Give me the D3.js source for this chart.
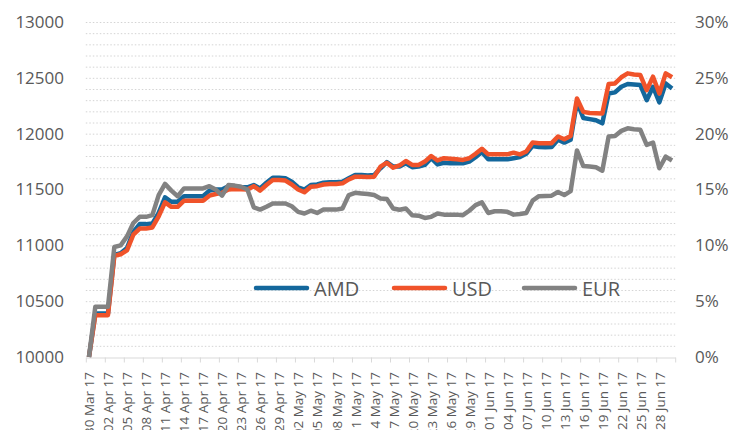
<!DOCTYPE html>
<html><head><meta charset="utf-8">
<script src="https://cdn.jsdelivr.net/npm/d3@7"></script>
<style>body{margin:0;background:#fff}svg{display:block}</style>
</head><body><svg id="c" width="732" height="430"></svg>
<script>
// categories: daily from 30 Mar 2017 to 30 Jun 2017 (93 days)
const categories = d3.utcDay.range(new Date(Date.UTC(2017,2,30)), new Date(Date.UTC(2017,6,1)));
const seriesNames = ["AMD","USD","EUR"];
const amd = [10000,10390,10390,10390,10915,10930,10975,11120,11190,11190,11195,11290,11430,11390,11390,11440,11440,11440,11440,11490,11500,11500,11530,11530,
11520,11520,11540,11510,11560,11605,11605,11600,11570,11520,11500,11540,11545,11560,11565,11565,11570,11600,11630,11630,11625,11630,11690,11745,11705,
11705,11735,11700,11705,11720,11780,11725,11740,11735,11735,11735,11750,11790,11835,11770,11770,11770,11770,11780,11790,11820,11890,11880,
11878,11880,11945,11920,11945,12285,12140,12130,12120,12093,12360,12370,12420,12445,12440,12435,12300,12420,12280,12450,12405];
const usd = [10000,10375,10375,10375,10905,10920,10955,11095,11150,11150,11160,11260,11385,11345,11345,11400,11400,11400,11400,11445,11460,11470,11500,11505,
11502,11500,11530,11490,11540,11585,11585,11580,11545,11500,11475,11525,11530,11545,11550,11550,11555,11590,11615,11615,11612,11615,11705,11740,11695,
11715,11755,11720,11720,11750,11800,11760,11780,11775,11770,11765,11780,11820,11865,11815,11815,11815,11815,11830,11815,11840,11920,11915,
11914,11915,11975,11950,11980,12315,12195,12185,12182,12180,12445,12450,12505,12540,12530,12525,12390,12510,12360,12540,12505];
const eur = [10000,10450,10450,10450,10985,11000,11080,11200,11255,11255,11270,11450,11550,11490,11440,11510,11510,11510,11510,11530,11500,11445,11540,11535,
11525,11500,11340,11320,11345,11375,11375,11375,11350,11300,11285,11310,11290,11320,11320,11320,11330,11450,11470,11465,11460,11450,11420,11415,11330,
11318,11330,11270,11265,11245,11255,11285,11275,11275,11275,11270,11310,11360,11385,11290,11305,11305,11300,11275,11280,11290,11400,11440,
11442,11445,11478,11450,11485,11850,11710,11705,11700,11668,11975,11980,12025,12048,12040,12035,11900,11920,11690,11795,11760];
const tickLabels = ["30 Mar 17","02 Apr 17","05 Apr 17","08 Apr 17","11 Apr 17","14 Apr 17","17 Apr 17","20 Apr 17","23 Apr 17","26 Apr 17","29 Apr 17",
"02 May 17","05 May 17","08 May 17","11 May 17","14 May 17","17 May 17","20 May 17","23 May 17","26 May 17","29 May 17",
"01 Jun 17","04 Jun 17","07 Jun 17","10 Jun 17","13 Jun 17","16 Jun 17","19 Jun 17","22 Jun 17","25 Jun 17","28 Jun 17"];
const leftTicks = [10000,10500,11000,11500,12000,12500,13000];
const rightTicks = [0,0.05,0.10,0.15,0.20,0.25,0.30];

const colors = {AMD:"#13679c", USD:"#f0532a", EUR:"#828282"};
const svg = d3.select("#c");
const n = categories.length;
const x = d3.scaleLinear().domain([-0.5, n-0.5]).range([85.8, 675.2]);
const y = d3.scaleLinear().domain([10000,13000]).range([357,22]);
const yr = d3.scaleLinear().domain([0,0.30]).range([357,22]);
const font = "'Open Sans', 'Liberation Sans', sans-serif";
const txt = "#595959";

// grid
const gridVals = d3.range(10100, 13001, 100);
svg.append("g").selectAll("line").data(gridVals).join("line")
  .attr("x1", x.range()[0]).attr("x2", x.range()[1])
  .attr("y1", d=>y(d)+0.5).attr("y2", d=>y(d)+0.5)
  .attr("stroke","#d4d4d4").attr("stroke-width",1).attr("stroke-dasharray","1.5,2");

// x axis ticks
const tickIdx = d3.range(0, 32).map(k=>-0.5+3*k);
const gx = svg.append("g").attr("transform",`translate(0,${357.5})`)
  .call(d3.axisBottom(x).tickValues(tickIdx).tickFormat("").tickSize(5).tickSizeOuter(0));
gx.select(".domain").attr("stroke","#d9d9d9");
gx.selectAll(".tick line").attr("stroke","#d9d9d9");

// x labels
const labelIdx = tickLabels.map((d,i)=>i*3);
const gl = svg.append("g").attr("transform",`translate(0,${357})`)
  .call(d3.axisBottom(x).tickValues(labelIdx).tickFormat((d,i)=>tickLabels[i]).tickSize(0));
gl.select(".domain").remove();
gl.selectAll("text").attr("transform","rotate(-90)").attr("text-anchor","end")
  .attr("x",-15).attr("y",0).attr("dy","0.36em")
  .style("font-family",font).style("font-size","13.5px").attr("fill",txt);

// left axis
const gyl = svg.append("g").attr("transform","translate(64,0)")
  .call(d3.axisLeft(y).tickValues(leftTicks).tickFormat(d3.format("d")).tickSize(0));
gyl.select(".domain").remove();
gyl.selectAll("text").attr("x",0).style("font-family",font).style("font-size","17px").attr("fill",txt);

// right axis
const gyr = svg.append("g").attr("transform","translate(695,0)")
  .call(d3.axisRight(yr).tickValues(rightTicks).tickFormat(d3.format(".0%")).tickSize(0));
gyr.select(".domain").remove();
gyr.selectAll("text").attr("x",0).style("font-family",font).style("font-size","17px").attr("fill",txt);

// lines
const line = d3.line().x((d,i)=>x(i)).y(d=>y(d));
const data = {AMD:amd, USD:usd, EUR:eur};
seriesNames.forEach(s=>{
  svg.append("path").datum(data[s]).attr("d",line).attr("fill","none")
    .attr("stroke",colors[s]).attr("stroke-width",4.5).attr("stroke-linejoin","round");
});

// legend
const leg = [{s:"AMD",x1:256,tx:314},{s:"USD",x1:394,tx:452},{s:"EUR",x1:524,tx:582}];
leg.forEach(l=>{
  svg.append("line").attr("x1",l.x1).attr("x2",l.x1+51).attr("y1",288).attr("y2",288)
    .attr("stroke",colors[l.s]).attr("stroke-width",4.5).attr("stroke-linecap","round");
  svg.append("text").attr("x",l.tx).attr("y",295.5).text(l.s)
    .style("font-family",font).style("font-size","20px").attr("fill",txt);
});
</script></body></html>
